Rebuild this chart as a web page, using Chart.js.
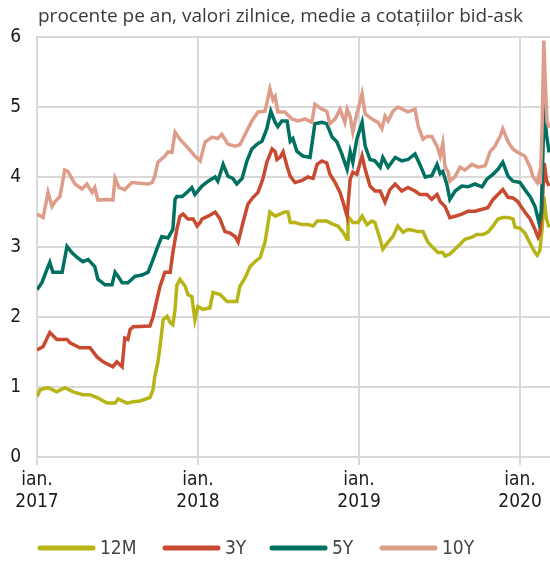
<!DOCTYPE html>
<html>
<head>
<meta charset="utf-8">
<script src="https://cdn.jsdelivr.net/npm/chart.js"></script>
<style>
  html, body { margin: 0; padding: 0; background: #fff; }
  #wrap { width: 550px; height: 561px; position: relative; }
</style>
</head>
<body>
<div id="wrap"><canvas id="chart" width="550" height="561"></canvas></div>
<script>
// Data: day = days since 1 Jan 2017, values in % per year
const titleText = 'procente pe an, valori zilnice, medie a cotațiilor bid-ask';
const seriesLabels = ['12M', '3Y', '5Y', '10Y'];
const seriesColors = ['#b7b418', '#c84a30', '#007161', '#de9d89'];
const tickDays = [0, 365, 730, 1095];
const tickLabels = [['ian.', '2017'], ['ian.', '2018'], ['ian.', '2019'], ['ian.', '2020']];

const d12M = [0, 7, 25, 45, 63, 82, 104, 120, 136, 159, 177, 184, 204, 218, 234, 256, 263, 267, 274, 279, 286, 295, 302, 308, 313, 317, 324, 336, 342, 351, 358, 365, 376, 392, 399, 415, 431, 453, 460, 472, 483, 494, 506, 517, 528, 540, 551, 562, 569, 574, 585, 601, 614, 626, 635, 657, 669, 682, 694, 703, 705, 716, 728, 737, 748, 759, 766, 778, 784, 796, 807, 818, 830, 841, 852, 864, 875, 886, 898, 909, 920, 925, 936, 948, 959, 970, 986, 997, 1011, 1022, 1034, 1045, 1056, 1068, 1079, 1084, 1095, 1106, 1118, 1129, 1134, 1140, 1145, 1149, 1155, 1161];
const v12M = [0.86, 0.96, 0.99, 0.93, 0.99, 0.93, 0.89, 0.89, 0.85, 0.77, 0.77, 0.83, 0.77, 0.79, 0.80, 0.85, 0.96, 1.15, 1.35, 1.58, 1.96, 2.01, 1.92, 1.89, 2.11, 2.45, 2.54, 2.44, 2.32, 2.29, 1.96, 2.15, 2.11, 2.13, 2.35, 2.32, 2.22, 2.22, 2.44, 2.56, 2.72, 2.79, 2.85, 3.07, 3.50, 3.44, 3.47, 3.50, 3.50, 3.35, 3.35, 3.32, 3.32, 3.30, 3.37, 3.37, 3.33, 3.30, 3.21, 3.11, 3.44, 3.35, 3.35, 3.44, 3.32, 3.37, 3.35, 3.11, 2.97, 3.07, 3.15, 3.30, 3.21, 3.25, 3.24, 3.22, 3.22, 3.07, 2.99, 2.92, 2.92, 2.87, 2.90, 2.97, 3.04, 3.11, 3.14, 3.18, 3.18, 3.21, 3.30, 3.40, 3.42, 3.42, 3.40, 3.28, 3.27, 3.20, 3.05, 2.92, 2.88, 2.95, 3.25, 3.72, 3.40, 3.28];

const d3Y = [0, 14, 29, 45, 68, 75, 97, 120, 136, 150, 172, 181, 193, 199, 206, 211, 218, 256, 263, 272, 279, 290, 302, 308, 317, 324, 331, 342, 354, 363, 370, 374, 388, 404, 415, 426, 438, 449, 456, 467, 478, 490, 501, 512, 521, 533, 540, 544, 551, 558, 567, 574, 585, 601, 614, 626, 635, 646, 657, 664, 676, 687, 694, 703, 710, 716, 725, 737, 744, 755, 766, 778, 789, 800, 812, 827, 841, 857, 868, 884, 895, 907, 914, 925, 936, 948, 963, 977, 993, 1009, 1022, 1034, 1045, 1056, 1068, 1079, 1090, 1095, 1106, 1118, 1129, 1136, 1140, 1145, 1150, 1155, 1161];
const v3Y = [1.53, 1.58, 1.78, 1.68, 1.68, 1.63, 1.56, 1.56, 1.43, 1.36, 1.29, 1.36, 1.29, 1.70, 1.68, 1.82, 1.86, 1.87, 2.00, 2.25, 2.44, 2.64, 2.64, 2.92, 3.25, 3.44, 3.47, 3.40, 3.40, 3.30, 3.35, 3.40, 3.44, 3.50, 3.40, 3.22, 3.20, 3.15, 3.07, 3.35, 3.61, 3.71, 3.78, 3.97, 4.21, 4.40, 4.36, 4.25, 4.28, 4.36, 4.15, 4.01, 3.92, 3.95, 4.00, 3.98, 4.18, 4.23, 4.20, 4.04, 3.92, 3.78, 3.64, 3.44, 3.97, 4.07, 4.04, 4.30, 4.11, 3.87, 3.80, 3.80, 3.64, 3.82, 3.90, 3.80, 3.85, 3.80, 3.75, 3.75, 3.68, 3.75, 3.65, 3.58, 3.42, 3.44, 3.47, 3.51, 3.51, 3.54, 3.56, 3.68, 3.75, 3.82, 3.71, 3.70, 3.65, 3.60, 3.50, 3.40, 3.25, 3.14, 3.20, 3.55, 4.20, 3.95, 3.87];

const d5Y = [0, 11, 25, 29, 36, 57, 68, 79, 91, 104, 116, 131, 138, 154, 170, 177, 184, 193, 206, 222, 238, 252, 263, 274, 283, 297, 308, 313, 317, 329, 340, 351, 358, 374, 388, 404, 410, 422, 433, 444, 453, 465, 476, 487, 499, 510, 521, 530, 540, 546, 555, 567, 574, 580, 589, 603, 619, 630, 646, 657, 669, 680, 691, 703, 710, 716, 725, 737, 744, 755, 766, 778, 784, 796, 812, 827, 841, 857, 868, 880, 895, 907, 914, 920, 929, 936, 948, 963, 977, 993, 1009, 1020, 1034, 1045, 1056, 1068, 1079, 1090, 1095, 1106, 1118, 1129, 1138, 1143, 1146, 1150, 1155, 1161];
const v5Y = [2.39, 2.49, 2.72, 2.78, 2.64, 2.64, 3.01, 2.92, 2.85, 2.79, 2.82, 2.72, 2.54, 2.46, 2.46, 2.64, 2.58, 2.49, 2.49, 2.58, 2.60, 2.64, 2.82, 3.01, 3.15, 3.13, 3.25, 3.68, 3.72, 3.72, 3.78, 3.85, 3.75, 3.87, 3.94, 4.00, 3.94, 4.18, 4.01, 3.98, 3.90, 3.98, 4.23, 4.40, 4.47, 4.51, 4.69, 4.94, 4.78, 4.72, 4.80, 4.80, 4.51, 4.55, 4.37, 4.30, 4.28, 4.76, 4.78, 4.76, 4.57, 4.50, 4.33, 4.11, 4.36, 4.21, 4.54, 4.78, 4.44, 4.25, 4.23, 4.14, 4.28, 4.14, 4.28, 4.23, 4.25, 4.33, 4.18, 4.00, 4.02, 4.18, 4.05, 4.08, 3.90, 3.68, 3.80, 3.87, 3.86, 3.90, 3.86, 3.97, 4.04, 4.11, 4.21, 4.01, 3.94, 3.93, 3.92, 3.82, 3.72, 3.58, 3.35, 3.50, 4.10, 5.05, 4.60, 4.35];

const d10Y = [0, 14, 25, 34, 41, 52, 63, 70, 86, 102, 113, 125, 131, 138, 159, 172, 177, 186, 199, 215, 252, 261, 267, 274, 290, 297, 306, 313, 324, 340, 358, 370, 381, 397, 410, 419, 433, 449, 460, 472, 487, 501, 517, 521, 528, 535, 540, 546, 562, 578, 592, 608, 623, 630, 646, 657, 664, 676, 687, 698, 703, 710, 716, 725, 728, 737, 744, 759, 773, 782, 789, 796, 807, 818, 841, 857, 864, 875, 884, 895, 907, 914, 920, 925, 932, 936, 948, 959, 970, 986, 1000, 1016, 1027, 1038, 1050, 1056, 1068, 1079, 1090, 1106, 1118, 1124, 1134, 1138, 1141, 1145, 1149, 1152, 1156, 1161];
const v10Y = [3.47, 3.42, 3.78, 3.58, 3.65, 3.72, 4.10, 4.08, 3.90, 3.83, 3.90, 3.78, 3.85, 3.67, 3.68, 3.67, 3.98, 3.85, 3.82, 3.92, 3.90, 3.92, 4.01, 4.21, 4.30, 4.36, 4.35, 4.64, 4.54, 4.43, 4.30, 4.23, 4.50, 4.57, 4.55, 4.61, 4.47, 4.44, 4.46, 4.61, 4.80, 4.93, 4.94, 5.05, 5.26, 5.10, 5.15, 4.93, 4.93, 4.83, 4.80, 4.83, 4.78, 5.04, 4.97, 4.94, 4.76, 4.83, 4.97, 4.78, 4.97, 4.86, 4.64, 4.90, 4.97, 5.19, 4.90, 4.83, 4.78, 4.69, 4.87, 4.80, 4.94, 5.00, 4.93, 4.97, 4.73, 4.54, 4.58, 4.58, 4.44, 4.30, 4.48, 4.15, 4.07, 3.94, 4.01, 4.14, 4.10, 4.18, 4.14, 4.16, 4.36, 4.44, 4.58, 4.69, 4.50, 4.40, 4.35, 4.30, 4.14, 4.01, 3.92, 4.03, 3.90, 4.70, 5.95, 5.40, 4.80, 4.70];

const FONT_NARROW = '"Liberation Sans Narrow", "DejaVu Sans Condensed", sans-serif';
const FONT_TITLE = '"Open Sans", "Noto Sans", sans-serif';
const GRID = '#d9d9d9';

function toPoints(days, vals) {
  return days.map((d, i) => ({ x: d, y: vals[i] }));
}

const allDays = [d12M, d3Y, d5Y, d10Y];
const allVals = [v12M, v3Y, v5Y, v10Y];

const datasets = seriesLabels.map((label, i) => ({
  label: label,
  data: toPoints(allDays[i], allVals[i]),
  borderColor: seriesColors[i],
  backgroundColor: seriesColors[i],
  borderWidth: 3.5,
  pointRadius: 0,
  tension: 0,
  order: 4 - i
}));

// Title and legend drawn on canvas
const extrasPlugin = {
  id: 'extras',
  afterDraw(chart) {
    const ctx = chart.ctx;
    const area = chart.chartArea;
    ctx.save();
    ctx.fillStyle = '#3a3a3a';
    // fit title to the width it takes in the original (about 495px)
    ctx.font = '17px ' + FONT_TITLE;
    let size = 17 * 495 / ctx.measureText(titleText).width;
    size = Math.min(size, 19);
    ctx.font = size.toFixed(1) + 'px ' + FONT_TITLE;
    ctx.textBaseline = 'middle';
    ctx.textAlign = 'left';
    ctx.fillText(titleText, area.left + 1, 17);

    const lineStarts = [40, 165, 272, 382];
    const y = 548;
    ctx.font = '19px ' + FONT_NARROW;
    chart.data.datasets.forEach((ds, i) => {
      const x = lineStarts[i];
      ctx.strokeStyle = ds.borderColor;
      ctx.lineWidth = 5;
      ctx.lineCap = 'round';
      ctx.beginPath();
      ctx.moveTo(x, y);
      ctx.lineTo(x + 53, y);
      ctx.stroke();
      ctx.fillStyle = '#444';
      ctx.fillText(ds.label, x + 60, y + 1);
    });
    ctx.restore();
  }
};

new Chart(document.getElementById('chart'), {
  type: 'line',
  data: { datasets: datasets },
  options: {
    responsive: false,
    animation: false,
    layout: { padding: { top: 37, right: 0, bottom: 40, left: 0 } },
    plugins: {
      legend: { display: false },
      title: { display: false },
      tooltip: { enabled: false }
    },
    scales: {
      x: {
        type: 'linear',
        min: 0,
        max: 1163,
        afterFit(scale) { scale.height = 64; },
        afterBuildTicks(scale) {
          scale.ticks = tickDays.map(v => ({ value: v }));
        },
        ticks: {
          autoSkip: false,
          maxRotation: 0,
          padding: 4,
          color: '#1a1a1a',
          font: { family: FONT_NARROW, size: 19, lineHeight: 1.15 },
          callback(value) {
            const i = tickDays.indexOf(value);
            return i >= 0 ? tickLabels[i] : '';
          }
        },
        grid: { color: GRID, lineWidth: 2, drawTicks: true, tickLength: 8, tickColor: GRID },
        border: { display: true, color: GRID, width: 2 }
      },
      y: {
        min: 0,
        max: 6,
        afterFit(scale) { scale.width = 37; },
        ticks: {
          stepSize: 1,
          padding: 16,
          color: '#1a1a1a',
          font: { family: FONT_NARROW, size: 19 }
        },
        grid: { color: GRID, lineWidth: 2, drawTicks: false },
        border: { display: true, color: GRID, width: 2 }
      }
    }
  },
  plugins: [extrasPlugin]
});
</script>
</body>
</html>
